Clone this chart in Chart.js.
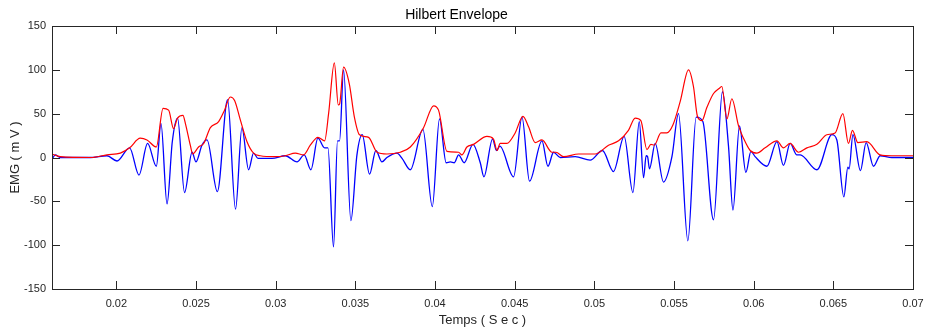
<!DOCTYPE html>
<html>
<head>
<meta charset="utf-8">
<script src="https://cdn.jsdelivr.net/npm/chart.js@4/dist/chart.umd.min.js"></script>
<style>
  html, body { margin: 0; padding: 0; background: #fff; }
</style>
</head>
<body>
<canvas id="emg" width="925" height="331"></canvas>
<script>
// EMG signal (blue), time in s / amplitude in mV
var blueT = [0.01596, 0.01617, 0.01648, 0.01837, 0.01941, 0.02004, 0.02083, 0.02142, 0.02196, 0.02251,
    0.02280, 0.02318, 0.02351, 0.02384, 0.02428, 0.02475, 0.02500, 0.02537, 0.02569, 0.02634,
    0.02698, 0.02748, 0.02788, 0.02830, 0.02861, 0.02889, 0.02977, 0.03060, 0.03134, 0.03179,
    0.03221, 0.03265, 0.03307, 0.03328, 0.03363, 0.03388, 0.03401, 0.03426, 0.03472, 0.03510,
    0.03543, 0.03589, 0.03629, 0.03667, 0.03698, 0.03761, 0.03793, 0.03845, 0.03924, 0.03983,
    0.04028, 0.04070, 0.04096, 0.04121, 0.04148, 0.04183, 0.04238, 0.04284, 0.04307, 0.04361,
    0.04386, 0.04407, 0.04493, 0.04546, 0.04593, 0.04671, 0.04709, 0.04744, 0.04786, 0.04880,
    0.04974, 0.05051, 0.05120, 0.05187, 0.05242, 0.05282, 0.05309, 0.05325, 0.05334, 0.05346,
    0.05382, 0.05434, 0.05487, 0.05528, 0.05587, 0.05639, 0.05681, 0.05748, 0.05804, 0.05842,
    0.05870, 0.05911, 0.05951, 0.05983, 0.06009, 0.06083, 0.06146, 0.06187, 0.06229, 0.06271,
    0.06292, 0.06397, 0.06491, 0.06522, 0.06566, 0.06591, 0.06599, 0.06623, 0.06670, 0.06706,
    0.06752, 0.06794, 0.06867, 0.07000];
var blueV = [-2, 3, 0, 0, 2, -4, 11, -20, 16, -10,
    39, -53, 18, 45, -40, 6, -5, 14, 20, -39,
    66, -59, 34, -14, 5, -1, -1, 2, -5, 3,
    -14, 22, 11, 11, -102, 19, 19, 100, -72, 3,
    26, -19, 8, -5, 0, 5, -1, -14, 32, -56,
    44, -6, -5, -6, 3, -6, 15, -6, -22, 21,
    8, 13, -22, 46, -27, 19, -10, 6, 0, 1,
    -3, 8, -16, 24, -40, 41, -23, 2, 1, -13,
    16, -28, 1, 50, -95, 46, 41, -71, 75, 13,
    -60, 36, -17, 7, 1, -10, 18, -9, 16, 3,
    3, -14, 26, 20, -45, -11, -13, 26, -15, 17,
    -10, 2, 0, 0];

// Hilbert envelope (red)
var redT = [0.01596, 0.01648, 0.01837, 0.01941, 0.02025, 0.02083, 0.02150, 0.02192, 0.02251, 0.02293,
    0.02328, 0.02359, 0.02384, 0.02418, 0.02433, 0.02464, 0.02479, 0.02516, 0.02548, 0.02590,
    0.02642, 0.02679, 0.02715, 0.02742, 0.02778, 0.02820, 0.02861, 0.02903, 0.02997, 0.03060,
    0.03123, 0.03175, 0.03217, 0.03265, 0.03307, 0.03332, 0.03368, 0.03393, 0.03401, 0.03426,
    0.03462, 0.03493, 0.03526, 0.03583, 0.03636, 0.03698, 0.03782, 0.03845, 0.03928, 0.03991,
    0.04022, 0.04075, 0.04148, 0.04169, 0.04200, 0.04242, 0.04326, 0.04367, 0.04389, 0.04409,
    0.04451, 0.04503, 0.04552, 0.04587, 0.04629, 0.04671, 0.04734, 0.04759, 0.04807, 0.04901,
    0.05005, 0.05089, 0.05152, 0.05214, 0.05256, 0.05292, 0.05330, 0.05355, 0.05376, 0.05418,
    0.05455, 0.05493, 0.05539, 0.05591, 0.05622, 0.05647, 0.05675, 0.05706, 0.05748, 0.05785,
    0.05800, 0.05832, 0.05863, 0.05905, 0.05936, 0.05978, 0.06020, 0.06072, 0.06146, 0.06187,
    0.06229, 0.06281, 0.06334, 0.06397, 0.06459, 0.06511, 0.06560, 0.06595, 0.06620, 0.06654,
    0.06710, 0.06794, 0.06867, 0.07000];
var redV = [4, 1, 0, 3, 5, 11, 22, 20, 12, 56,
    54, 33, 45, 48, 39, 14, 4, 12, 16, 34,
    41, 54, 69, 65, 43, 18, 5, 2, 1, 2,
    5, 3, 14, 23, 19, 50, 108, 60, 61, 103,
    84, 47, 26, 23, 6, 4, 6, 12, 34, 59,
    54, 7, 6, 3, 12, 15, 24, 21, 8, 16,
    16, 28, 47, 35, 17, 20, 6, 6, 1, 4,
    4, 14, 19, 31, 45, 42, 9, 15, 14, 28,
    28, 37, 64, 100, 81, 47, 42, 57, 73, 79,
    81, 44, 67, 36, 22, 8, 5, 11, 19, 11,
    16, 6, 11, 15, 26, 28, 50, 16, 31, 17,
    18, 3, 2, 2];

var xTicks = [0.02, 0.025, 0.03, 0.035, 0.04, 0.045, 0.05, 0.055, 0.06, 0.065, 0.07];
var yTicks = [-150, -100, -50, 0, 50, 100, 150];

var axisColor = '#262626';
var fontFamily = '"Liberation Sans", Arial, Helvetica, sans-serif';

function pairs(t, v) {
    return t.map(function (x, i) { return { x: x, y: v[i] }; });
}

// matlab style: closed box, ticks pointing inside on all four sides
var boxTicks = {
    id: 'boxTicks',
    afterDraw: function (chart) {
        var ctx = chart.ctx, a = chart.chartArea;
        var xs = chart.scales.x, ys = chart.scales.y;
        var len = 8;
        ctx.save();
        ctx.strokeStyle = axisColor;
        ctx.lineWidth = 1;
        ctx.beginPath();
        xTicks.forEach(function (v) {
            var px = Math.round(xs.getPixelForValue(v)) + 0.5;
            ctx.moveTo(px, a.bottom);
            ctx.lineTo(px, a.bottom - len);
            ctx.moveTo(px, a.top);
            ctx.lineTo(px, a.top + len);
        });
        yTicks.forEach(function (v) {
            var py = Math.round(ys.getPixelForValue(v)) + 0.5;
            ctx.moveTo(a.left, py);
            ctx.lineTo(a.left + len, py);
            ctx.moveTo(a.right, py);
            ctx.lineTo(a.right - len, py);
        });
        ctx.stroke();
        ctx.strokeRect(a.left + 0.5, a.top + 0.5, a.right - a.left, a.bottom - a.top);
        ctx.restore();
    }
};

var ctx = document.getElementById('emg');
var chart = new Chart(ctx, {
    type: 'line',
    data: {
        datasets: [
            {
                label: 'Envelope',
                data: pairs(redT, redV),
                borderColor: '#ff0000',
                borderWidth: 1.2,
                pointRadius: 0,
                fill: false,
                cubicInterpolationMode: 'monotone'
            },
            {
                label: 'EMG',
                data: pairs(blueT, blueV),
                borderColor: '#0000ff',
                borderWidth: 1.3,
                pointRadius: 0,
                fill: false,
                cubicInterpolationMode: 'monotone'
            }
        ]
    },
    options: {
        responsive: false,
        animation: false,
        devicePixelRatio: 1,
        layout: { padding: { left: 0, right: 12, top: 0, bottom: 0 } },
        plugins: {
            legend: { display: false },
            tooltip: { enabled: false },
            title: {
                display: true,
                text: 'Hilbert Envelope',
                color: '#000',
                font: { family: fontFamily, size: 14, weight: 'normal' },
                padding: { top: 6.5, bottom: 2.7 }
            }
        },
        scales: {
            x: {
                type: 'linear',
                min: 0.01596,
                max: 0.07,
                afterBuildTicks: function (s) { s.ticks = xTicks.map(function (v) { return { value: v }; }); },
                afterFit: function (s) {
                    s.height = 42;
                    s.paddingLeft = 0;
                    s.paddingRight = 0;
                },
                grid: { display: false, drawTicks: false },
                border: { display: false },
                ticks: {
                    autoSkip: false,
                    maxRotation: 0,
                    padding: 8,
                    color: axisColor,
                    font: { family: fontFamily, size: 11 },
                    callback: function (v) { return String(+v.toFixed(4)); }
                },
                title: {
                    display: true,
                    text: 'Temps ( S e c )',
                    color: axisColor,
                    font: { family: fontFamily, size: 13 },
                    padding: { top: 0, bottom: 3 }
                }
            },
            y: {
                min: -150,
                max: 150,
                afterBuildTicks: function (s) { s.ticks = yTicks.map(function (v) { return { value: v }; }); },
                afterFit: function (s) {
                    s.width = 52;
                    s.paddingTop = 0;
                    s.paddingBottom = 0;
                },
                grid: { display: false, drawTicks: false },
                border: { display: false },
                ticks: {
                    padding: 6,
                    color: axisColor,
                    font: { family: fontFamily, size: 11 }
                },
                title: {
                    display: true,
                    text: 'EMG ( m V )',
                    color: axisColor,
                    font: { family: fontFamily, size: 13 },
                    padding: { top: 8, bottom: 0 }
                }
            }
        }
    },
    plugins: [boxTicks]
});
</script>
</body>
</html>
